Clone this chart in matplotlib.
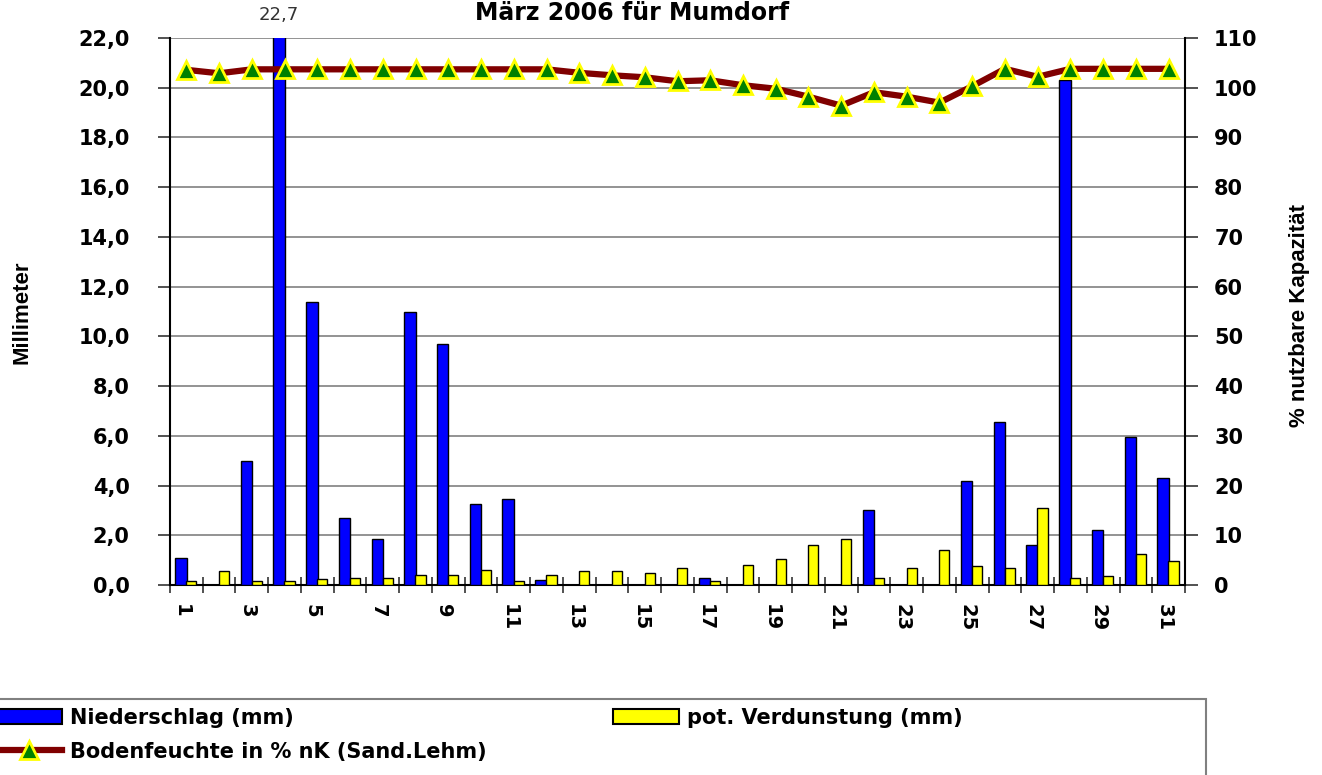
import numpy as np
import matplotlib
matplotlib.use('Agg')
import matplotlib.pyplot as plt
from matplotlib.lines import Line2D
from matplotlib.patches import Patch, Rectangle
from matplotlib.ticker import FuncFormatter

days = list(range(1, 32))
niederschlag = [1.1, 0.0, 5.0, 22.7, 11.4, 2.7, 1.85, 11.0, 9.7, 3.25, 3.45, 0.2, 0.0, 0.0, 0.0, 0.0,
                0.3, 0.0, 0.0, 0.0, 0.0, 3.0, 0.0, 0.0, 4.2, 6.55, 1.6, 20.3, 2.2, 5.95, 4.3]
verdunstung = [0.15, 0.55, 0.15, 0.15, 0.25, 0.3, 0.3, 0.4, 0.4, 0.6, 0.15, 0.4, 0.55, 0.55, 0.5, 0.7,
               0.15, 0.8, 1.05, 1.6, 1.85, 0.3, 0.7, 1.4, 0.75, 0.7, 3.1, 0.3, 0.35, 1.25, 0.95]
bodenfeuchte = [103.6, 102.9, 103.7, 103.7, 103.7, 103.7, 103.7, 103.7, 103.7, 103.7, 103.7, 103.7,
                103.0, 102.5, 102.1, 101.3, 101.5, 100.5, 99.8, 98.2, 96.4, 99.1, 98.2, 97.0,
                100.3, 103.8, 102.2, 103.8, 103.8, 103.8, 103.8]
left_ticks = np.arange(0, 22.1, 2)
right_ticks = np.arange(0, 111, 10)
tick_days = days[::2]

W, H = 1322, 775
fig = plt.figure(figsize=(W / 100, H / 100), dpi=100)
ax = fig.add_axes([170 / W, 1 - 585 / H, (1185 - 170) / W, (585 - 38) / H])

bold = dict(family='DejaVu Sans', weight='bold')
comma = FuncFormatter(lambda v, p: f'{v:.1f}'.replace('.', ','))

x = np.array(days)
ax.bar(x - 0.17, niederschlag, width=0.35, color='#0000ff', edgecolor='black', linewidth=1, zorder=3)
ax.bar(x + 0.15, verdunstung, width=0.31, color='#ffff00', edgecolor='black', linewidth=1, zorder=3)
ax.text(4 - 0.17, 22.55, '22,7', ha='center', va='bottom', fontsize=13, color='#333333', clip_on=False)

ax.set_xlim(0.5, 31.5)
ax.set_ylim(0, 22)
ax.set_yticks(left_ticks)
ax.yaxis.set_major_formatter(comma)
ax.grid(axis='y', color='#808080', linewidth=1.2, zorder=0)
ax.set_axisbelow(True)

# category boundaries get the tick marks, the day numbers sit under the blue bars
ax.set_xticks(np.arange(0.5, 32, 1))
ax.set_xticklabels([])
ax.set_xticks(np.array(tick_days) - 0.15, minor=True)
ax.set_xticklabels([str(d) for d in tick_days], minor=True, rotation=-90, fontsize=14, **bold)
ax.tick_params(axis='x', which='major', direction='inout', length=11, width=1.2, color='#333333')
ax.tick_params(axis='x', which='minor', length=0, pad=14)
ax.tick_params(axis='y', direction='out', length=9, width=1.2, color='#333333', pad=20)
for lab in ax.get_yticklabels():
    lab.set_fontsize(15)
    lab.set_fontfamily('DejaVu Sans')
    lab.set_fontweight('bold')
ax.spines['top'].set_visible(False)
ax.spines['right'].set_visible(False)
ax.spines['left'].set_linewidth(1.5)
ax.spines['bottom'].set_linewidth(1.5)

ax2 = ax.twinx()
ax2.plot(x, bodenfeuchte, color='#800000', linewidth=4.5, marker='^', markersize=13,
         markerfacecolor='#008000', markeredgecolor='#ffff00', markeredgewidth=2)
ax2.set_ylim(0, 110)
ax2.set_yticks(right_ticks)
ax2.tick_params(axis='y', direction='out', length=9, width=1.2, color='#333333', pad=12)
for lab in ax2.get_yticklabels():
    lab.set_fontsize(15)
    lab.set_fontfamily('DejaVu Sans')
    lab.set_fontweight('bold')
for s in ['top', 'left', 'bottom']:
    ax2.spines[s].set_visible(False)
ax2.spines['right'].set_linewidth(1.5)

fig.text(22 / W, 1 - 312 / H, 'Millimeter', rotation=90, ha='center', va='center',
         fontsize=16, family='Liberation Sans', weight='bold')
fig.text(1300 / W, 1 - 315 / H, '% nutzbare Kapazität', rotation=90, ha='center', va='center',
         fontsize=16, family='Liberation Sans', weight='bold')
fig.text(632 / W, 1 - 20 / H, 'März 2006 für Mumdorf', ha='center', va='baseline',
         fontsize=17, **bold)

# legend, frame drawn separately because it is wider than the entries
handles = [Patch(facecolor='#0000ff', edgecolor='black', linewidth=1.5),
           Line2D([], [], color='#800000', linewidth=4.5, marker='^', markersize=13,
                  markerfacecolor='#008000', markeredgecolor='#ffff00', markeredgewidth=2),
           Patch(facecolor='#ffff00', edgecolor='black', linewidth=1.5)]
labels = ['Niederschlag (mm)', 'Bodenfeuchte in % nK (Sand.Lehm)', 'pot. Verdunstung (mm)']
fig.legend(handles, labels, ncol=2, loc='upper left', bbox_to_anchor=(-4 / W, 1 - 708 / H),
           frameon=False, borderpad=0, borderaxespad=0, handlelength=3.17, handleheight=0.75,
           handletextpad=0.38, columnspacing=6.05, labelspacing=0.65,
           prop=dict(family='DejaVu Sans', weight='bold', size=15))
fig.patches.append(Rectangle((-5 / W, -0.02), 1211 / W, (775 - 699) / H + 0.02,
                             transform=fig.transFigure, fill=False, edgecolor='#808080', linewidth=1.5))

plt.savefig('out.png', dpi=100)
